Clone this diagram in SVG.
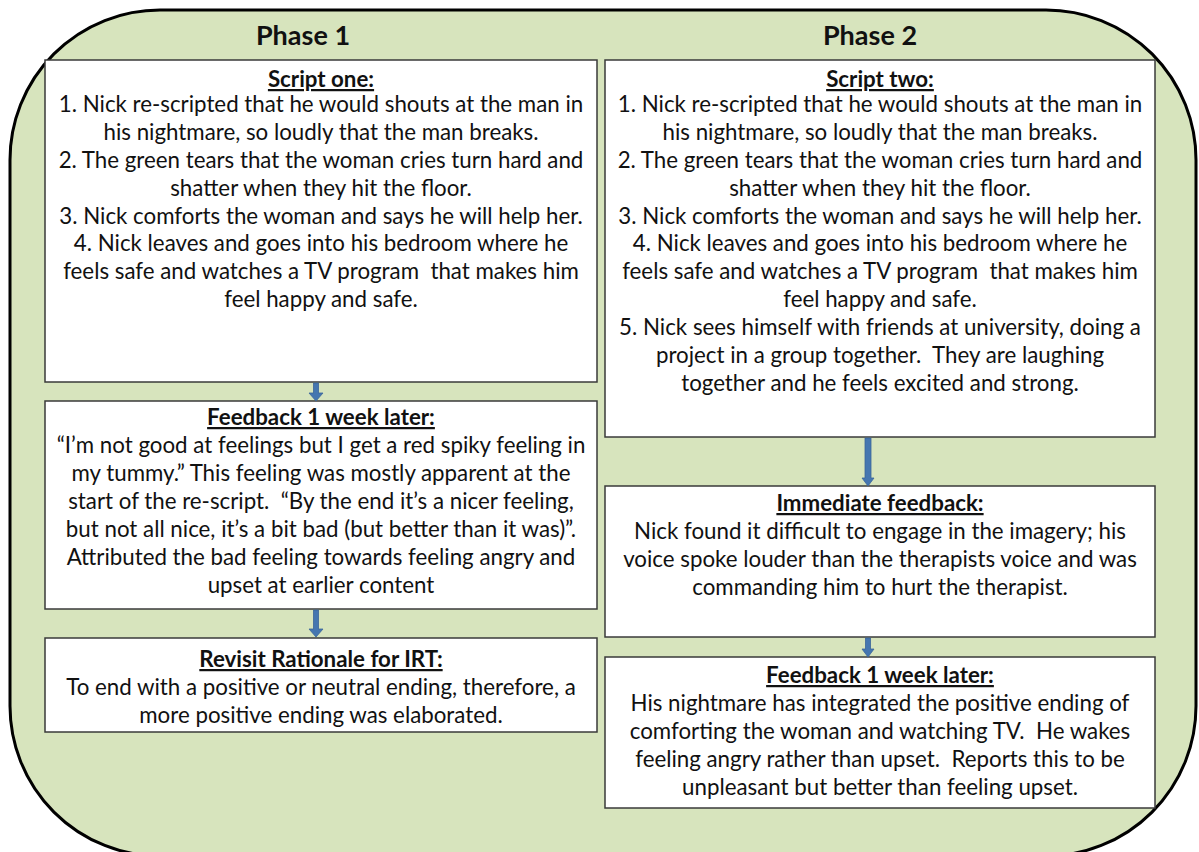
<svg xmlns="http://www.w3.org/2000/svg" width="1199" height="852" viewBox="0 0 1199 852">
  <defs>
    <style>
      .panel { fill: #d7e4bd; stroke: #000; stroke-width: 3; }
      .box { fill: #fff; stroke: #3a3a3a; stroke-width: 1.5; }
      .phase { font-family: Lato, "Liberation Sans", sans-serif; font-weight: bold; font-size: 27px; fill: #111; text-anchor: middle; }
      .t { font-family: Lato, "Liberation Sans", sans-serif; font-size: 22.3px; fill: #111; text-anchor: middle; white-space: pre; }
      .h { font-weight: bold; text-decoration: underline; }
      .arrow { fill: #4576b0; stroke: #3a6599; stroke-width: 0.8; }
    </style>
  </defs>

  <!-- background panel -->
  <rect class="panel" x="10" y="10" width="1186" height="846" rx="150" ry="150"/>

  <text class="phase" x="303" y="45">Phase 1</text>
  <text class="phase" x="870" y="45">Phase 2</text>

  <g id="script-one">
    <rect class="box" x="45" y="60" width="552" height="322"/>
    <text class="t h" x="321" y="87">Script one:</text>
    <text class="t" x="321" y="112">1. Nick re-scripted that he would shouts at the man in</text>
    <text class="t" x="321" y="140">his nightmare, so loudly that the man breaks.</text>
    <text class="t" x="321" y="168">2. The green tears that the woman cries turn hard and</text>
    <text class="t" x="321" y="196">shatter when they hit the floor.</text>
    <text class="t" x="321" y="224">3. Nick comforts the woman and says he will help her.</text>
    <text class="t" x="321" y="251">4. Nick leaves and goes into his bedroom where he</text>
    <text class="t" x="321" y="279">feels safe and watches a TV program  that makes him</text>
    <text class="t" x="321" y="307">feel happy and safe.</text>
  </g>

  <g id="feedback-left">
    <rect class="box" x="45" y="401" width="552" height="208"/>
    <text class="t h" x="321" y="425">Feedback 1 week later:</text>
    <text class="t" x="321" y="453">“I’m not good at feelings but I get a red spiky feeling in</text>
    <text class="t" x="321" y="481">my tummy.” This feeling was mostly apparent at the</text>
    <text class="t" x="321" y="509">start of the re-script.  “By the end it’s a nicer feeling,</text>
    <text class="t" x="321" y="537">but not all nice, it’s a bit bad (but better than it was)”.</text>
    <text class="t" x="321" y="565">Attributed the bad feeling towards feeling angry and</text>
    <text class="t" x="321" y="593">upset at earlier content</text>
  </g>

  <g id="revisit">
    <rect class="box" x="45" y="638" width="552" height="94"/>
    <text class="t h" x="321" y="667">Revisit Rationale for IRT:</text>
    <text class="t" x="321" y="695">To end with a positive or neutral ending, therefore, a</text>
    <text class="t" x="321" y="723">more positive ending was elaborated.</text>
  </g>

  <g id="script-two">
    <rect class="box" x="605" y="60" width="550" height="377"/>
    <text class="t h" x="880" y="87">Script two:</text>
    <text class="t" x="880" y="112">1. Nick re-scripted that he would shouts at the man in</text>
    <text class="t" x="880" y="140">his nightmare, so loudly that the man breaks.</text>
    <text class="t" x="880" y="168">2. The green tears that the woman cries turn hard and</text>
    <text class="t" x="880" y="196">shatter when they hit the floor.</text>
    <text class="t" x="880" y="224">3. Nick comforts the woman and says he will help her.</text>
    <text class="t" x="880" y="251">4. Nick leaves and goes into his bedroom where he</text>
    <text class="t" x="880" y="279">feels safe and watches a TV program  that makes him</text>
    <text class="t" x="880" y="307">feel happy and safe.</text>
    <text class="t" x="880" y="335">5. Nick sees himself with friends at university, doing a</text>
    <text class="t" x="880" y="363">project in a group together.  They are laughing</text>
    <text class="t" x="880" y="391">together and he feels excited and strong.</text>
  </g>

  <g id="immediate-feedback">
    <rect class="box" x="605" y="486" width="550" height="151"/>
    <text class="t h" x="880" y="511">Immediate feedback:</text>
    <text class="t" x="880" y="539">Nick found it difficult to engage in the imagery; his</text>
    <text class="t" x="880" y="567">voice spoke louder than the therapists voice and was</text>
    <text class="t" x="880" y="595">commanding him to hurt the therapist.</text>
  </g>

  <g id="feedback-right">
    <rect class="box" x="605" y="657" width="550" height="151"/>
    <text class="t h" x="880" y="683">Feedback 1 week later:</text>
    <text class="t" x="880" y="711">His nightmare has integrated the positive ending of</text>
    <text class="t" x="880" y="739">comforting the woman and watching TV.  He wakes</text>
    <text class="t" x="880" y="767">feeling angry rather than upset.  Reports this to be</text>
    <text class="t" x="880" y="795">unpleasant but better than feeling upset.</text>
  </g>

  <g id="connectors">
    <!-- short block arrows between stacked boxes -->
    <path class="arrow" d="M313.5,383 h5 v10 h4.5 l-7,8 l-7,-8 h4.5 z"/>
    <path class="arrow" d="M313.5,610 h5 v19 h4.5 l-7,8 l-7,-8 h4.5 z"/>
    <path class="arrow" d="M865,438 h6 v40 h3 l-6,8 l-6,-8 h3 z"/>
    <path class="arrow" d="M865.5,638 h5 v11 h3.5 l-6,8 l-6,-8 h3.5 z"/>
  </g>
</svg>
